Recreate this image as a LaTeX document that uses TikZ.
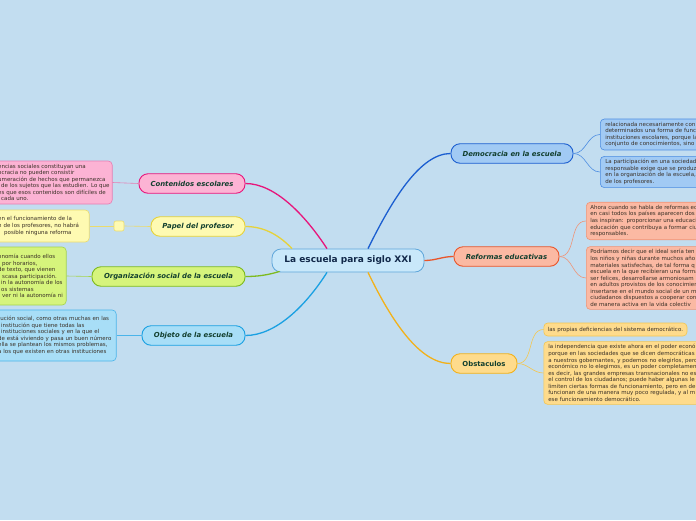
\documentclass[tikz,border=0pt]{standalone}
\usepackage{fontspec}
\setmainfont{DejaVu Sans}
\definecolor{bg}{HTML}{C2DDF0}
\definecolor{rootfill}{HTML}{C9E8FA}
\definecolor{rootline}{HTML}{5FA6DA}
\definecolor{rootink}{HTML}{12294A}
\definecolor{topicink}{HTML}{123F2E}
\definecolor{noteink}{HTML}{3A3026}
\definecolor{contline}{HTML}{E7157B}
\definecolor{contfill}{HTML}{FCB3D4}
\definecolor{contedge}{HTML}{E67DB2}
\definecolor{papelline}{HTML}{E6D23A}
\definecolor{papelfill}{HTML}{FEFAB2}
\definecolor{papeledge}{HTML}{EBDB6C}
\definecolor{orgline}{HTML}{7EBA1E}
\definecolor{orgfill}{HTML}{D6F47C}
\definecolor{orgedge}{HTML}{A5D44C}
\definecolor{objline}{HTML}{1AA0E2}
\definecolor{objfill}{HTML}{A8DEF7}
\definecolor{objedge}{HTML}{4AB4EA}
\definecolor{demoline}{HTML}{1B5ED0}
\definecolor{demofill}{HTML}{A1CAF4}
\definecolor{demoedge}{HTML}{4C8DE2}
\definecolor{refline}{HTML}{E9552A}
\definecolor{reffill}{HTML}{FBB9A3}
\definecolor{refedge}{HTML}{EF9477}
\definecolor{obsline}{HTML}{F2B11A}
\definecolor{obsfill}{HTML}{FEDB8C}
\definecolor{obsedge}{HTML}{F4C650}
\newcommand\row[1]{\mbox{#1}}
\tikzset{
  rootbox/.style={draw=rootline, fill=rootfill, line width=0.8pt, rounded corners=9pt,
    minimum width=152pt, minimum height=23pt, text=rootink,
    font=\bfseries\fontsize{9}{11}\selectfont},
  topic/.style={line width=0.9pt, rounded corners=9pt, minimum height=19.5pt, text=topicink,
    font=\bfseries\itshape\fontsize{6.9}{8}\selectfont},
  note/.style={line width=0.6pt, rounded corners=4pt, text=noteink, align=left,
    inner xsep=4pt, inner ysep=3pt, font=\fontsize{5.5}{6.55}\selectfont},
  branch/.style={line width=1.3pt},
  twig/.style={line width=0.6pt},
}
\begin{document}
\begin{tikzpicture}[x=1pt,y=-1pt]
\useasboundingbox (0,0) rectangle (696,520);
\fill[bg] (0,0) rectangle (696,520);
\clip (0,0) rectangle (696,520);

\node[rootbox] (root) at (348,260.5) {La escuela para siglo XXI};

\node[topic, draw=contline, fill=contfill, minimum width=106pt] (cont) at (192,183.5) {Contenidos escolares};
\node[topic, draw=papelline, fill=papelfill, minimum width=94pt] (papel) at (198,226.5) {Papel del profesor};
\node[topic, draw=orgline, fill=orgfill, minimum width=153pt] (org) at (168.5,276.5) {Organización social de la escuela};
\node[topic, draw=objline, fill=objfill, minimum width=103pt] (obj) at (193.5,335.5) {Objeto de la escuela};
\node[topic, draw=demoline, fill=demofill, minimum width=122pt] (demo) at (512,153.5) {Democracia en la escuela};
\node[topic, draw=refline, fill=reffill, minimum width=105pt] (ref) at (506.5,256.5) {Reformas educativas};
\node[topic, draw=obsline, fill=obsfill, minimum width=66pt,
  font=\bfseries\fontsize{6.9}{8}\selectfont] (obs) at (484,363.5) {Obstaculos};

\node[note, draw=contedge, fill=contfill, text width=110pt, anchor=east] (contA) at (112.5,182.5)
  {\row{encias sociales constituyan una}\\\row{ocracia no pueden consistir}\\
   \row{umeración de hechos que permanezca}\\\row{\hspace*{3pt}de los sujetos que las estudien. Lo que}\\
   \row{es que esos contenidos son difíciles de}\\\row{\hspace*{3pt}cada uno.}};
\node[note, draw=papeledge, fill=papelfill, text width=87pt, minimum height=32pt, anchor=east] (papelA) at (89.5,226)
  {\row{en el funcionamiento de la}\\\row{n de los profesores, no habrá}\\\row{\hspace*{6pt}posible ninguna reforma}};
\node[draw=papeledge, fill=papelfill, line width=0.6pt, rounded corners=2pt, minimum size=10pt,
  inner sep=0pt] (papelmark) at (119,226) {};
\node[note, draw=orgedge, fill=orgfill, text width=64pt, minimum height=58pt, anchor=east] (orgA) at (66.5,276)
  {\row{onomía cuando ellos}\\\row{\hspace*{4pt}por horarios,}\\\row{de texto, que vienen}\\
   \row{\hspace*{4pt}scasa participación.}\\\row{\hspace*{3pt}in la autonomía de los}\\
   \row{\hspace*{3pt}os sistemas}\\\row{\hspace*{4pt}ver ni la autonomía ni}};
\node[note, draw=objedge, fill=objfill, text width=114pt, minimum height=51pt, anchor=east] (objA) at (116.5,335.5)
  {\row{tución social, como otras muchas en las}\\\row{\hspace*{3pt}institución que tiene todas las}\\
   \row{\hspace*{3pt}instituciones sociales y en la que el}\\\row{de está viviendo y pasa un buen número}\\
   \row{ella se plantean los mismos problemas,}\\\row{a los que existen en otras instituciones}};

\node[note, draw=demoedge, fill=demofill, text width=200pt, inner xsep=5pt, anchor=west] (demoA) at (600,134.5)
  {relacionada necesariamente con\\determinados una forma de func\\instituciones escolares, porque la\\
   conjunto de conocimientos, sino};
\node[note, draw=demoedge, fill=demofill, text width=200pt, inner xsep=5pt, anchor=west] (demoB) at (600,172)
  {La participación en una sociedad\\responsable exige que se produz\\en la organización de la escuela,\\
   de los profesores.};
\node[note, draw=refedge, fill=reffill, text width=200pt, anchor=west] (refA) at (586,221)
  {Ahora cuando se habla de reformas ed\\en casi todos los países aparecen dos\\
   las inspiran: proporcionar una educaci\\educación que contribuya a formar ciu\\responsables.};
\node[note, draw=refedge, fill=reffill, text width=200pt, anchor=west] (refB) at (586,278)
  {Podríamos decir que el ideal sería ten\\los niños y niñas durante muchos año\\
   materiales satisfechas, de tal forma q\\escuela en la que recibieran una forma\\
   ser felices, desarrollarse armoniosam\\en adultos provistos de los conocimien\\
   insertarse en el mundo social de un m\\ciudadanos dispuestos a cooperar con\\
   de manera activa en la vida colectiv};
\node[note, draw=obsedge, fill=obsfill, minimum height=13pt, anchor=west] (obsA) at (543.5,329.5)
  {las propias deficiencias del sistema democrático.};
\node[note, draw=obsedge, fill=obsfill, text width=200pt, inner xsep=4.5pt, anchor=west] (obsB) at (543.5,373)
  {la independencia que existe ahora en el poder económ\\porque en las sociedades que se dicen democráticas\\
   a nuestros gobernantes, y podemos no elegirlos, pero\\económico no lo elegimos, es un poder completamen\\
   es decir, las grandes empresas transnacionales no es\\el control de los ciudadanos; puede haber algunas le\\
   limiten ciertas formas de funcionamiento, pero en de\\funcionan de una manera muy poco regulada, y al m\\
   ese funcionamiento democrático.};

\draw[branch, contline] ([xshift=-21pt]root.north) .. controls (305,215) and (275,183.5) .. (cont.east);
\draw[branch, papelline] ([xshift=-56pt]root.north) .. controls (280,236) and (265,226.5) .. (papel.east);
\draw[branch, orgline] ([xshift=8pt,yshift=1pt]root.south west) .. controls (268,275) and (258,276.5) .. (org.east);
\draw[branch, objline] ([xshift=-21pt]root.south) .. controls (305,307) and (275,335.5) .. (obj.east);
\draw[branch, demoline] ([xshift=20pt]root.north) .. controls (392,200) and (420,153.5) .. (demo.west);
\draw[branch, refline] (root.east) to[out=0,in=180] (ref.west);
\draw[branch, obsline] ([xshift=20pt]root.south) .. controls (392,322) and (420,363.5) .. (obs.west);

\draw[twig, contedge] (cont.west) -- (contA.east);
\draw[twig, papeledge] (papel.west) -- (papelmark.east);
\draw[twig, papeledge] (papelmark.west) -- (papelA.east);
\draw[twig, orgedge] (org.west) -- (orgA.east);
\draw[twig, objedge] (obj.west) -- (objA.east);
\draw[twig, demoedge] (demo.east) to[out=0,in=180] (demoA.west);
\draw[twig, demoedge] (demo.east) to[out=0,in=180] (demoB.west);
\draw[twig, refedge] (ref.east) to[out=0,in=180] (refA.west);
\draw[twig, refedge] (ref.east) to[out=0,in=180] (refB.west);
\draw[twig, obsedge] (obs.east) to[out=0,in=180] (obsA.west);
\draw[twig, obsedge] (obs.east) to[out=0,in=180] (obsB.west);
\end{tikzpicture}
\end{document}
